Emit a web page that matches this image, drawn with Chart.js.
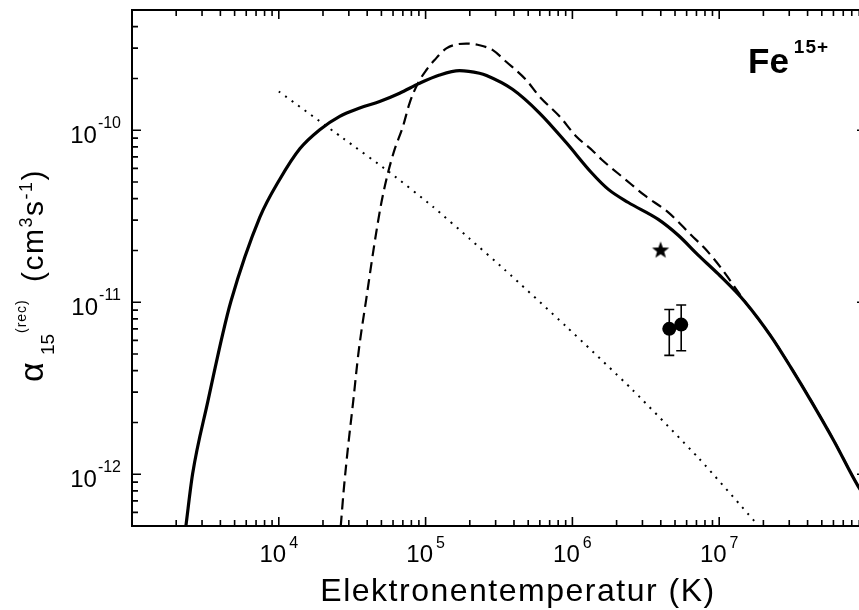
<!DOCTYPE html>
<html>
<head>
<meta charset="utf-8">
<script src="https://cdn.jsdelivr.net/npm/chart.js@4.4.1/dist/chart.umd.min.js"></script>
<style>
html, body { margin: 0; padding: 0; background: #fff; overflow: hidden; }
#wrap { width: 859px; height: 610px; overflow: hidden; }
</style>
</head>
<body>
<div id="wrap"><canvas id="rateChart" width="900" height="610"></canvas></div>
<script>
// total recombination rate (solid)
var solidT = [2173, 2328, 2588, 3289, 4140, 4710, 7430, 10160, 13900,
    19010, 26000, 35560, 48640, 66530, 91000, 124500, 170200, 232800, 260000,
    390800, 597000, 909900, 1.346e6, 1.758e6, 2.404e6, 3.846e6, 5.26e6, 7.19e6, 9.84e6,
    1.496e7, 2.26e7, 3.09e7, 4.23e7, 6.05e7, 8.83e7, 1e8];
var solidRate = [3.16e-13, 4.99e-13, 1.005e-12, 2.66e-12, 6.49e-12, 1.007e-11, 3.12e-11, 5.19e-11, 7.8e-11,
    1.007e-10, 1.205e-10, 1.346e-10, 1.469e-10, 1.641e-10, 1.875e-10, 2.094e-10, 2.218e-10, 2.143e-10, 2.08e-10,
    1.73e-10, 1.259e-10, 8.45e-11, 5.68e-11, 4.53e-11, 3.80e-11, 3.03e-11, 2.45e-11, 1.88e-11, 1.46e-11,
    1.007e-11, 6.31e-12, 4.15e-12, 2.66e-12, 1.56e-12, 8.53e-13, 7.3e-13];

// dashed curve
var dashedT = [25120, 26420, 27670, 29440, 32140, 34990, 39450, 44980, 50000, 55460,
    61520, 70150, 77800, 88720, 101200, 115100, 138400, 189200, 232800, 287100,
    354000, 484200, 597000, 816600, 1.059e6, 1.374e6, 1.58e6, 2.286e6, 3.126e6, 4.50e6,
    6.49e6, 8.0e6, 1.038e7, 1.496e7, 2.26e7, 3.09e7, 4.23e7, 6.05e7, 8.83e7, 1e8];
var dashedRate = [3.16e-13, 4.99e-13, 8.05e-13, 1.371e-12, 2.66e-12, 5.18e-12, 1.047e-11, 2.23e-11, 3.80e-11, 5.66e-11,
    7.73e-11, 1.054e-10, 1.439e-10, 1.875e-10, 2.239e-10, 2.56e-10, 2.99e-10, 3.19e-10, 3.12e-10, 2.92e-10,
    2.50e-10, 1.96e-10, 1.57e-10, 1.205e-10, 9.23e-11, 7.6e-11, 6.76e-11, 5.19e-11, 4.16e-11, 3.33e-11,
    2.44e-11, 2.05e-11, 1.567e-11, 1.01e-11, 6.33e-12, 4.16e-12, 2.67e-12, 1.565e-12, 8.55e-13, 7.32e-13];

// dotted curve
var dottedT = [1e4, 27350, 56890, 112200, 199500, 344400, 905700, 2.57e6, 7.31e6, 1.75e7];
var dottedRate = [1.68e-10, 8.99e-11, 5.69e-11, 3.59e-11, 2.34e-11, 1.55e-11, 7.24e-12, 3.09e-12, 1.23e-12, 5.3e-13];

// star
var starT = [3.99e6];
var starRate = [2.0e-11];

// measurements with error bars
var expT = [4.57e6, 5.51e6];
var expRate = [7.0e-12, 7.41e-12];
var expLow = [4.91e-12, 5.22e-12];
var expHigh = [9.08e-12, 9.64e-12];

// axes
var xMin = 1e3, xMax = 1e8;
var yMin = 5e-13, yMax = 5e-10;
var xLabelExps = [4, 5, 6, 7];
var yLabelExps = [-12, -11, -10];

var FONT = '"Liberation Sans", Arial, sans-serif';

function toPoints(xs, ys) {
    return xs.map(function (x, i) { return { x: x, y: ys[i] }; });
}

function makeStar(r) {
    var c = document.createElement('canvas');
    c.width = c.height = 2 * r + 2;
    var g = c.getContext('2d');
    g.beginPath();
    for (var i = 0; i < 10; i++) {
        var rad = i % 2 === 0 ? r : r * 0.42;
        var a = -Math.PI / 2 + i * Math.PI / 5;
        var px = r + 1 + rad * Math.cos(a), py = r + 1 + rad * Math.sin(a);
        if (i === 0) g.moveTo(px, py); else g.lineTo(px, py);
    }
    g.closePath();
    g.fillStyle = '#000';
    g.fill();
    return c;
}

function piecesWidth(ctx, pieces) {
    var w = 0;
    pieces.forEach(function (p) {
        ctx.font = p.font;
        ctx.letterSpacing = p.ls || '0px';
        w += (p.pad || 0) + ctx.measureText(p.text).width;
    });
    ctx.letterSpacing = '0px';
    return w;
}

function drawPieces(ctx, pieces, x, y) {
    var cx = x;
    pieces.forEach(function (p) {
        ctx.font = p.font;
        ctx.letterSpacing = p.ls || '0px';
        cx += p.pad || 0;
        ctx.fillText(p.text, cx, y + (p.dy || 0));
        cx += ctx.measureText(p.text).width;
    });
    ctx.letterSpacing = '0px';
    return cx;
}

// error bars under the circles
var errorBars = {
    id: 'errorBars',
    beforeDatasetsDraw: function (chart) {
        var ctx = chart.ctx, xs = chart.scales.x, ys = chart.scales.y;
        ctx.save();
        ctx.strokeStyle = '#000';
        ctx.lineWidth = 1.6;
        for (var i = 0; i < expT.length; i++) {
            var px = xs.getPixelForValue(expT[i]);
            var top = ys.getPixelForValue(expHigh[i]);
            var bot = ys.getPixelForValue(expLow[i]);
            ctx.beginPath();
            ctx.moveTo(px, top); ctx.lineTo(px, bot);
            ctx.moveTo(px - 5, top); ctx.lineTo(px + 5, top);
            ctx.moveTo(px - 5, bot); ctx.lineTo(px + 5, bot);
            ctx.stroke();
        }
        ctx.restore();
    }
};

// frame, inward ticks and all text
var frame = {
    id: 'frame',
    afterDraw: function (chart) {
        var ctx = chart.ctx, xs = chart.scales.x, ys = chart.scales.y;
        var a = chart.chartArea;
        ctx.save();
        ctx.strokeStyle = '#000';
        ctx.fillStyle = '#000';

        ctx.lineWidth = 1.6;
        ctx.beginPath();
        for (var d = 3; d <= 8; d++) {
            for (var m = 1; m <= 9; m++) {
                var v = m * Math.pow(10, d);
                if (v < xMin * 0.999 || v > xMax * 1.001) continue;
                var px = xs.getPixelForValue(v);
                var len = m === 1 ? 9 : 6;
                ctx.moveTo(px, a.bottom); ctx.lineTo(px, a.bottom - len);
                ctx.moveTo(px, a.top); ctx.lineTo(px, a.top + len);
            }
        }
        for (var e = -13; e <= -10; e++) {
            for (var k = 1; k <= 9; k++) {
                var val = k * Math.pow(10, e);
                if (val < yMin * 0.999 || val > yMax * 1.001) continue;
                var py = ys.getPixelForValue(val);
                var l2 = k === 1 ? 9 : 6;
                ctx.moveTo(a.left, py); ctx.lineTo(a.left + l2, py);
                ctx.moveTo(a.right, py); ctx.lineTo(a.right - l2, py);
            }
        }
        ctx.stroke();

        ctx.lineWidth = 2;
        ctx.strokeRect(a.left, a.top, a.right - a.left, a.bottom - a.top);

        // x tick labels
        ctx.textAlign = 'left';
        ctx.textBaseline = 'alphabetic';
        xLabelExps.forEach(function (ex) {
            var pieces = [
                { text: '10', font: '24px ' + FONT },
                { text: String(ex), font: '16px ' + FONT, dy: -14, pad: 3 }
            ];
            var w = piecesWidth(ctx, pieces);
            var px = xs.getPixelForValue(Math.pow(10, ex));
            drawPieces(ctx, pieces, px - w / 2, 562);
        });

        // y tick labels
        yLabelExps.forEach(function (ex) {
            var pieces = [
                { text: '10', font: '24px ' + FONT },
                { text: String(ex), font: '16px ' + FONT, dy: -15, pad: 1 }
            ];
            var w = piecesWidth(ctx, pieces);
            var py = ys.getPixelForValue(Math.pow(10, ex));
            drawPieces(ctx, pieces, 121 - w, py + 13);
        });

        // x title
        ctx.font = '32px ' + FONT;
        ctx.letterSpacing = '1.5px';
        ctx.textAlign = 'center';
        ctx.fillText('Elektronentemperatur (K)', 518, 601);
        ctx.letterSpacing = '0px';
        ctx.textAlign = 'left';

        // y title, rotated
        ctx.save();
        ctx.translate(43, 383);
        ctx.rotate(-Math.PI / 2);
        ctx.font = '34px ' + FONT;
        ctx.fillText('\u03b1', 1, 0);
        ctx.font = '19px ' + FONT;
        ctx.fillText('15', 28, 11);
        ctx.font = '14px ' + FONT;
        ctx.letterSpacing = '1px';
        ctx.fillText('(rec)', 50, -17);
        drawPieces(ctx, [
            { text: '(cm', font: '30px ' + FONT, ls: '1.5px' },
            { text: '3', font: '18px ' + FONT, ls: '1.5px', dy: -11 },
            { text: 's', font: '30px ' + FONT, ls: '1.5px' },
            { text: '-1', font: '18px ' + FONT, ls: '1.5px', dy: -11 },
            { text: ')', font: '30px ' + FONT, ls: '1.5px' }
        ], 101, 0);
        ctx.restore();

        // ion label
        drawPieces(ctx, [
            { text: 'Fe', font: 'bold 35px ' + FONT },
            { text: '15+', font: 'bold 19px ' + FONT, ls: '1px', dy: -20, pad: 5 }
        ], 748, 73);

        ctx.restore();
    }
};

var rateChart = new Chart(document.getElementById('rateChart'), {
    type: 'scatter',
    data: {
        datasets: [
            {
                label: 'dotted',
                data: toPoints(dottedT, dottedRate),
                showLine: true,
                borderColor: '#000',
                borderWidth: 2,
                borderDash: [2, 6],
                pointRadius: 0,
                tension: 0.2
            },
            {
                label: 'dashed',
                data: toPoints(dashedT, dashedRate),
                showLine: true,
                borderColor: '#000',
                borderWidth: 2.2,
                borderDash: [11, 6],
                pointRadius: 0,
                cubicInterpolationMode: 'monotone'
            },
            {
                label: 'total',
                data: toPoints(solidT, solidRate),
                showLine: true,
                borderColor: '#000',
                borderWidth: 3.2,
                pointRadius: 0,
                cubicInterpolationMode: 'monotone'
            },
            {
                label: 'star',
                data: toPoints(starT, starRate),
                pointStyle: makeStar(9),
                pointRadius: 9,
                showLine: false
            },
            {
                label: 'experiment',
                data: toPoints(expT, expRate),
                pointStyle: 'circle',
                pointRadius: 7,
                backgroundColor: '#000',
                borderColor: '#000',
                borderWidth: 0,
                showLine: false
            }
        ]
    },
    options: {
        responsive: false,
        animation: false,
        events: [],
        layout: { padding: { left: 132, top: 6, right: 34, bottom: 84 } },
        plugins: { legend: { display: false }, tooltip: { enabled: false } },
        scales: {
            x: { type: 'logarithmic', min: xMin, max: xMax, display: false },
            y: { type: 'logarithmic', min: yMin, max: yMax, display: false }
        }
    },
    plugins: [errorBars, frame]
});
</script>
</body>
</html>
